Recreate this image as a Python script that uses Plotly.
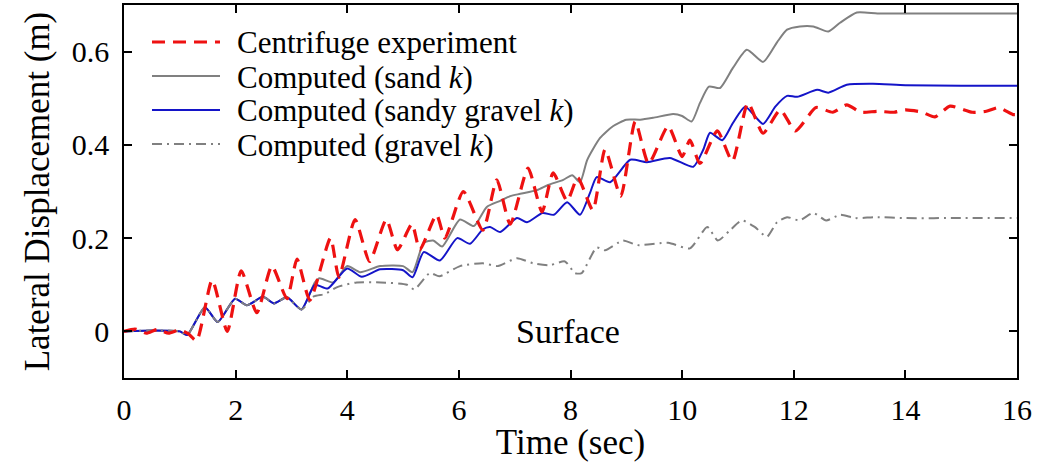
import plotly.graph_objects as go

# ---- data ----
t_exp = [0, 0.2, 0.4, 0.6, 0.8, 1.0, 1.15, 1.3, 1.58, 1.85, 2.1, 2.38, 2.65, 2.92, 3.1, 3.33,
         3.7, 3.85, 4.14, 4.4, 4.7, 4.9, 5.16, 5.3, 5.6, 5.75, 6.08, 6.43, 6.68, 6.92, 7.24,
         7.49, 7.69, 7.94, 8.13, 8.4, 8.62, 8.9, 9.16, 9.4, 9.75, 10.0, 10.14, 10.32, 10.63,
         10.9, 11.18, 11.45, 11.76, 12.03, 12.4, 12.7, 12.95, 13.2, 13.5, 13.8, 14.0, 14.3,
         14.53, 14.8, 15.2, 15.45, 15.67, 15.93, 16.0]
v_exp = [0.0, 0.005, -0.004, 0.004, -0.004, 0.003, -0.005, -0.02, 0.11, 0.0, 0.13, 0.04, 0.14,
         0.07, 0.155, 0.067, 0.2, 0.116, 0.24, 0.15, 0.24, 0.175, 0.23, 0.175, 0.25, 0.2, 0.3,
         0.217, 0.325, 0.23, 0.35, 0.256, 0.34, 0.28, 0.33, 0.26, 0.39, 0.29, 0.45, 0.36, 0.44,
         0.375, 0.41, 0.36, 0.43, 0.365, 0.49, 0.425, 0.475, 0.43, 0.48, 0.47, 0.486, 0.47,
         0.472, 0.47, 0.475, 0.47, 0.46, 0.483, 0.47, 0.472, 0.48, 0.465, 0.465]

t_sand = [0, 0.5, 1.0, 1.13, 1.45, 1.68, 1.99, 2.2, 2.49, 2.69, 2.92, 3.18, 3.42, 3.5, 3.75,
          4.0, 4.23, 4.59, 5.0, 5.17, 5.37, 5.54, 5.7, 6.02, 6.27, 6.5, 6.74, 6.92, 7.1, 7.4,
          7.6, 7.87, 8.03, 8.17, 8.3, 8.53, 8.76, 9.0, 9.25, 9.48, 9.84, 10.0, 10.17, 10.32,
          10.48, 10.68, 10.91, 11.16, 11.45, 11.7, 11.88, 12.11, 12.35, 12.62, 12.83, 13.13,
          13.5, 14.0, 15.0, 16.0]
v_sand = [0.0, 0.002, 0.0, -0.008, 0.052, 0.02, 0.07, 0.056, 0.074, 0.06, 0.073, 0.047, 0.105,
          0.114, 0.105, 0.14, 0.127, 0.14, 0.14, 0.127, 0.19, 0.195, 0.182, 0.24, 0.226, 0.267,
          0.28, 0.29, 0.295, 0.303, 0.314, 0.325, 0.335, 0.32, 0.368, 0.415, 0.44, 0.454, 0.454,
          0.458, 0.466, 0.462, 0.45, 0.49, 0.525, 0.522, 0.565, 0.604, 0.578, 0.62, 0.647,
          0.654, 0.654, 0.643, 0.662, 0.684, 0.682, 0.682, 0.682, 0.682]

t_sgrav = [0, 0.5, 1.0, 1.13, 1.45, 1.68, 1.99, 2.2, 2.49, 2.69, 2.92, 3.18, 3.42, 3.65, 4.0,
           4.26, 4.59, 5.0, 5.17, 5.37, 5.66, 5.97, 6.2, 6.43, 6.56, 6.74, 7.04, 7.22, 7.5, 7.7,
           7.94, 8.17, 8.35, 8.47, 8.71, 9.07, 9.37, 9.78, 10.2, 10.38, 10.5, 10.72, 10.91,
           11.13, 11.45, 11.67, 11.88, 12.06, 12.42, 12.62, 12.95, 13.42, 14.0, 15.0, 16.0]
v_sgrav = [0.0, 0.002, 0.0, -0.008, 0.052, 0.02, 0.07, 0.056, 0.074, 0.06, 0.073, 0.047, 0.1,
           0.092, 0.135, 0.117, 0.133, 0.131, 0.116, 0.17, 0.152, 0.2, 0.188, 0.219, 0.224,
           0.213, 0.243, 0.234, 0.254, 0.25, 0.277, 0.25, 0.297, 0.331, 0.32, 0.368, 0.363,
           0.372, 0.353, 0.39, 0.426, 0.41, 0.447, 0.482, 0.445, 0.482, 0.505, 0.503, 0.518,
           0.512, 0.529, 0.531, 0.528, 0.527, 0.527]

t_grav = [0, 0.5, 1.0, 1.13, 1.45, 1.68, 1.99, 2.2, 2.49, 2.69, 2.92, 3.18, 3.4, 3.6, 3.82,
          4.17, 4.6, 5.07, 5.2, 5.48, 5.65, 6.02, 6.43, 6.7, 7.04, 7.33, 7.63, 7.9, 8.08, 8.2,
          8.47, 8.62, 8.94, 9.2, 9.75, 10.14, 10.45, 10.64, 10.86, 11.07, 11.3, 11.52, 11.7,
          11.88, 12.1, 12.35, 12.58, 12.83, 13.1, 13.46, 14.0, 15.0, 16.0]
v_grav = [0.0, 0.002, 0.0, -0.008, 0.052, 0.02, 0.07, 0.056, 0.074, 0.06, 0.073, 0.047, 0.075,
          0.08, 0.095, 0.105, 0.105, 0.1, 0.09, 0.125, 0.118, 0.14, 0.146, 0.14, 0.157, 0.146,
          0.142, 0.15, 0.125, 0.125, 0.18, 0.174, 0.195, 0.185, 0.19, 0.178, 0.224, 0.195,
          0.217, 0.238, 0.224, 0.203, 0.234, 0.245, 0.238, 0.254, 0.238, 0.25, 0.243, 0.245,
          0.243, 0.243, 0.243]

series_names = ["Centrifuge experiment", "Computed (sand <i>k</i>)",
                "Computed (sandy gravel <i>k</i>)", "Computed (gravel <i>k</i>)"]

x_ticks = [0, 2, 4, 6, 8, 10, 12, 14, 16]
y_ticks = [0, 0.2, 0.4, 0.6]
y_tick_text = ["0", "0.2", "0.4", "0.6"]

FONT = "Liberation Serif"
W, H = 1042, 462
ML, MR, MT, MB = 124, 25, 5, 84

styles = [
    dict(color="#ee1111", width=3.2, dash="13px,8px"),
    dict(color="#808080", width=2),
    dict(color="#1414c8", width=2),
    dict(color="#808080", width=2, dash="10px,5px,2px,5px"),
]
series = [(t_exp, v_exp), (t_sand, v_sand), (t_sgrav, v_sgrav), (t_grav, v_grav)]

fig = go.Figure()
# computed first, experiment drawn on top
for i in [1, 2, 3, 0]:
    tx, vy = series[i]
    fig.add_trace(go.Scatter(x=tx, y=vy, mode="lines", name=series_names[i], showlegend=False,
                             line=dict(shape="spline", smoothing=0.6, **styles[i])))

# hand-made legend (to match the reference's long line samples and tight row spacing)
pw, ph = W - ML - MR, H - MT - MB
def px_x(p):
    return (p - ML) / pw
def px_y(p):
    return (H - MB - p) / ph

row_y = [42, 76, 110, 144]
for name, st, ry in zip(series_names, styles, row_y):
    fig.add_shape(type="line", xref="paper", yref="paper",
                  x0=px_x(152), x1=px_x(220), y0=px_y(ry), y1=px_y(ry),
                  line=st)
    fig.add_annotation(xref="paper", yref="paper", x=px_x(235), y=px_y(ry + 1),
                       xanchor="left", yanchor="middle", text=name, showarrow=False,
                       font=dict(family=FONT, size=31, color="black"))

fig.add_annotation(x=7.95, y=0.0, text="Surface", showarrow=False,
                   font=dict(family=FONT, size=34, color="black"))

axis_common = dict(showline=True, linecolor="black", linewidth=1.5, mirror="ticks",
                   ticks="inside", ticklen=8, tickwidth=1.5, tickcolor="black",
                   showgrid=False, zeroline=False, automargin=False,
                   tickfont=dict(family=FONT, size=30, color="black"))

fig.update_xaxes(range=[0, 16], tickvals=x_ticks, ticklabelstandoff=4,
                 title=dict(text="Time (sec)", font=dict(family=FONT, size=35, color="black"),
                            standoff=0),
                 **axis_common)
fig.update_yaxes(range=[-0.1, 0.7], tickvals=y_ticks, ticktext=y_tick_text,
                 ticklabelstandoff=7,
                 title=dict(text="Lateral Displacement (m)",
                            font=dict(family=FONT, size=35, color="black"), standoff=12),
                 **axis_common)

fig.update_layout(
    width=W, height=H,
    margin=dict(l=ML, r=MR, t=MT, b=MB),
    plot_bgcolor="white", paper_bgcolor="white",
    font=dict(family=FONT, color="black"),
    showlegend=False,
)

fig.write_html("out.html", config={"displayModeBar": False},
               post_script="document.body.style.margin='0';")
